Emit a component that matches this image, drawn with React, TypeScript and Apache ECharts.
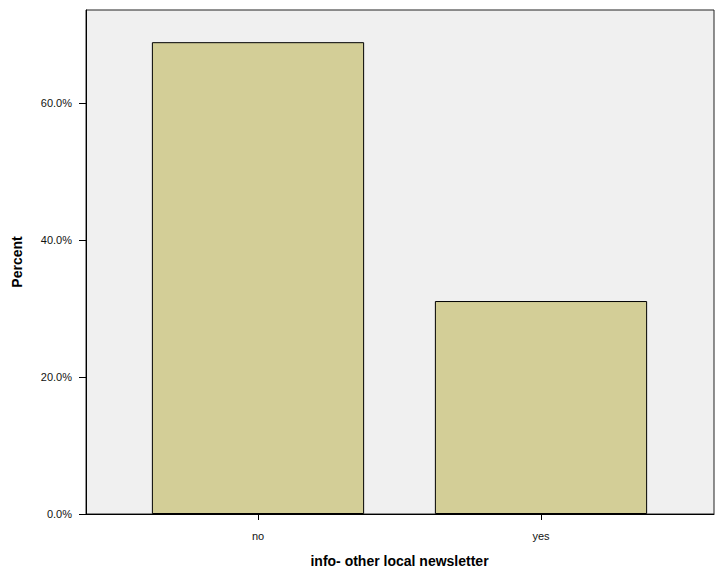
import React, { useEffect, useRef } from "react";
import * as echarts from "echarts";

const categories = ["no", "yes"];
const percentValues = [68.9, 31.1];
const yTicks = [0, 20, 40, 60];
const yMax = 73.6;

export default function App() {
  const ref = useRef<HTMLDivElement>(null);
  useEffect(() => {
    if (!ref.current) return;
    const chart = echarts.init(ref.current, null, { renderer: "svg" });
    const font = "Liberation Sans, Arial, sans-serif";
    chart.setOption({
      animation: false,
      grid: [
        {
          left: 86,
          right: 2,
          top: 10,
          bottom: 71,
          show: true,
          backgroundColor: "#f0f0f0",
          borderColor: "#222",
          borderWidth: 1,
        },
        { left: 116.5, width: 566, top: 10, bottom: 71 },
      ],
      xAxis: [
        {
          gridIndex: 0,
          type: "value",
          min: 0,
          max: 1,
          axisLine: { show: true, lineStyle: { color: "#000", width: 1 } },
          axisTick: { show: false },
          axisLabel: { show: false },
          splitLine: { show: false },
        },
        {
          gridIndex: 1,
          type: "category",
          data: categories,
          axisLine: { show: false },
          axisTick: { show: true, alignWithLabel: true, length: 6, lineStyle: { color: "#000" } },
          axisLabel: { color: "#111", fontSize: 11, fontFamily: font, margin: 16 },
          name: "info- other local newsletter",
          nameLocation: "middle",
          nameGap: 40,
          nameTextStyle: { color: "#000", fontSize: 14, fontWeight: "bold", fontFamily: font },
        },
      ],
      yAxis: [
        {
          gridIndex: 0,
          type: "value",
          min: 0,
          max: yMax,
          interval: 20,
          axisLine: { show: true, lineStyle: { color: "#000", width: 1 } },
          axisTick: { show: true, length: 7, lineStyle: { color: "#000" } },
          axisLabel: {
            color: "#111",
            fontSize: 11,
            fontFamily: font,
            margin: 14,
            showMaxLabel: false,
            formatter: (v: number) => (yTicks.includes(v) ? v.toFixed(1) + "%" : ""),
          },
          splitLine: { show: false },
          name: "Percent",
          nameLocation: "middle",
          nameGap: 62,
          nameTextStyle: { color: "#000", fontSize: 14, fontWeight: "bold", fontFamily: font },
        },
        {
          gridIndex: 1,
          type: "value",
          min: 0,
          max: yMax,
          show: false,
          splitLine: { show: false },
        },
      ],
      series: [
        {
          type: "bar",
          xAxisIndex: 1,
          yAxisIndex: 1,
          data: percentValues,
          barCategoryGap: "25%",
          itemStyle: { color: "#d3ce97", borderColor: "#000", borderWidth: 1 },
        },
      ],
    });
    return () => chart.dispose();
  }, []);
  return <div ref={ref} style={{ width: 716, height: 585, position: "absolute", left: 0, top: 0 }} />;
}
